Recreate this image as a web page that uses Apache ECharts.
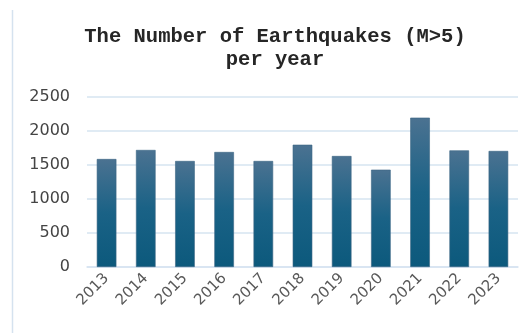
<!DOCTYPE html>
<html>
<head>
<meta charset="utf-8">
<script src="https://cdn.jsdelivr.net/npm/echarts@6/dist/echarts.min.js"></script>
<style>
  html, body { margin: 0; padding: 0; background: #fff; }
  #chart { width: 529px; height: 333px; }
</style>
</head>
<body>
<div id="chart"></div>
<script>
// years on the x axis
const years = ['2013', '2014', '2015', '2016', '2017', '2018', '2019', '2020', '2021', '2022', '2023'];
// earthquakes with magnitude above 5
const quakes = [1588, 1721, 1559, 1691, 1559, 1798, 1632, 1431, 2196, 1715, 1706];
const yTicks = [0, 500, 1000, 1500, 2000, 2500];

const myChart = echarts.init(document.getElementById('chart'));
myChart.setOption({
  animation: false,
  title: {
    text: 'The Number of Earthquakes (M>5)\nper year',
    left: 270,
    textAlign: 'center',
    top: 20,
    textStyle: {
      fontFamily: 'Liberation Mono',
      fontWeight: 'bold',
      fontSize: 20.5,
      lineHeight: 23,
      color: '#262626'
    }
  },
  graphic: [
    {
      type: 'line',
      shape: { x1: 12.5, y1: 10, x2: 12.5, y2: 333 },
      style: { stroke: '#d5e2ef', lineWidth: 1.5 }
    }
  ],
  grid: { left: 87, right: 11, top: 97, bottom: 66 },
  xAxis: {
    type: 'category',
    data: years,
    axisTick: { show: false },
    axisLine: { lineStyle: { color: '#d6e4f1', width: 1.5 } },
    axisLabel: {
      rotate: 45,
      margin: 9,
      fontFamily: 'DejaVu Sans',
      fontSize: 15,
      color: '#595959'
    }
  },
  yAxis: {
    type: 'value',
    min: yTicks[0],
    max: yTicks[yTicks.length - 1],
    interval: 500,
    axisLine: { show: false },
    axisTick: { show: false },
    splitLine: { lineStyle: { color: '#d6e4f1', width: 1.5 } },
    axisLabel: {
      margin: 17,
      fontFamily: 'DejaVu Sans',
      fontSize: 16,
      color: '#444',
      formatter: function (v) { return String(v); }
    }
  },
  series: [
    {
      type: 'bar',
      data: quakes,
      barWidth: '50%',
      itemStyle: {
        borderColor: '#3a6583',
        borderWidth: 0.6,
        color: new echarts.graphic.LinearGradient(0, 0, 0, 1, [
          { offset: 0, color: '#4b7291' },
          { offset: 0.5, color: '#1a6286' },
          { offset: 1, color: '#0c597c' }
        ])
      }
    }
  ]
});
</script>
</body>
</html>
